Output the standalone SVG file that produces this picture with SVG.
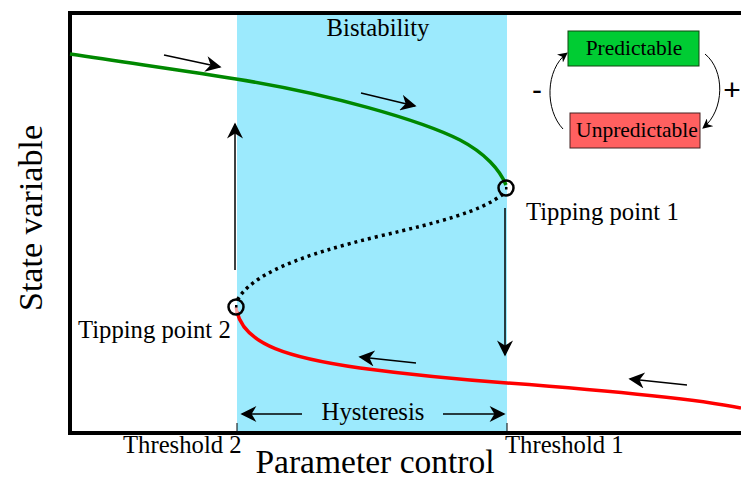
<svg xmlns="http://www.w3.org/2000/svg" width="741" height="479" viewBox="0 0 741 479">
<defs>
<marker id="ah" viewBox="0 0 10 10" refX="9" refY="5" markerWidth="10" markerHeight="10" markerUnits="userSpaceOnUse" orient="auto">
<path d="M0,0 L10,5 L0,10 L3,5 Z" fill="#000"/>
</marker>
<marker id="ahL" viewBox="0 0 10 10" refX="9" refY="5" markerWidth="20" markerHeight="16" markerUnits="userSpaceOnUse" orient="auto">
<path d="M0,0 L10,5 L0,10 L3,5 Z" fill="#000"/>
</marker>
</defs>
<style>
text{font-family:"Liberation Serif","Times New Roman",serif;fill:#000}
.lbl{font-size:24.7px}
.ar{stroke:#000;stroke-width:1.5;fill:none;marker-end:url(#ahL)}
.tp{fill:none;stroke:#000;stroke-width:2.5}
</style>
<rect width="741" height="479" fill="#fff"/>
<g id="bistability-region">
<rect x="237" y="13" width="270" height="419" fill="#9ceafd"/>
<text class="lbl" x="378" y="36" text-anchor="middle">Bistability</text>
</g>
<g id="axes">
<path d="M70,434 L70,13 L741,13" fill="none" stroke="#000" stroke-width="4"/>
<line x1="68" y1="433" x2="741" y2="433" stroke="#000" stroke-width="4"/>
<line x1="237" y1="423" x2="237" y2="433" stroke="#000" stroke-width="1"/>
<line x1="507" y1="423" x2="507" y2="433" stroke="#000" stroke-width="1"/>
<text class="lbl" x="123" y="453">Threshold 2</text>
<text class="lbl" x="505" y="453">Threshold 1</text>
<text x="375" y="473" text-anchor="middle" style="font-size:33.5px">Parameter control</text>
<text transform="translate(42,218) rotate(-90)" text-anchor="middle" style="font-size:34px">State variable</text>
</g>
<g id="connectors">
<path d="M70,54 C150,66 200,73 236,79 C330,94 420,120 460,140 C485,153 500,170 506,185" fill="none" stroke="#008800" stroke-width="3.5"/>
<path d="M503,194 C480,212 440,222 380,236 C300,255 250,275 237,301" fill="none" stroke="#000" stroke-width="3.5" stroke-dasharray="3,4"/>
<path d="M237,312 C245,345 290,358 360,368 C420,376 480,381 507,383 C600,390 690,398 741,408" fill="none" stroke="#ff0000" stroke-width="3.5"/>
<line x1="164" y1="55" x2="220" y2="67" class="ar"/>
<line x1="361" y1="93" x2="415" y2="106" class="ar"/>
<line x1="416" y1="363" x2="360" y2="357" class="ar"/>
<line x1="687" y1="385" x2="630" y2="379" class="ar"/>
<line x1="235" y1="270" x2="235" y2="124" class="ar"/>
<line x1="505" y1="208" x2="505" y2="355" class="ar"/>
<line x1="302" y1="414" x2="242" y2="414" class="ar"/>
<line x1="443" y1="414" x2="504" y2="414" class="ar"/>
<text class="lbl" x="373" y="420" text-anchor="middle">Hysteresis</text>
</g>
<g id="tipping-point-1">
<circle cx="506" cy="188" r="7.5" fill="#eef6ee" class="tp"/>
<rect x="505" y="187" width="2.5" height="2.5" fill="#000"/>
<text class="lbl" x="526" y="220">Tipping point 1</text>
</g>
<g id="tipping-point-2">
<circle cx="236" cy="307" r="7.5" fill="#fbe9ea" class="tp"/>
<line x1="236" y1="307" x2="237" y2="313" stroke="#f5a0a0" stroke-width="3"/>
<rect x="235" y="305" width="2.5" height="2.5" fill="#000"/>
<text class="lbl" x="78" y="338">Tipping point 2</text>
</g>
<g id="predictable">
<rect x="568" y="31" width="131" height="35" fill="#00cc33" stroke="#114411" stroke-width="1"/>
<text x="634" y="55" text-anchor="middle" style="font-size:21.5px">Predictable</text>
</g>
<g id="unpredictable">
<rect x="570" y="113" width="130" height="35" fill="#ff6060" stroke="#442222" stroke-width="1"/>
<text x="637" y="137" text-anchor="middle" style="font-size:21.5px">Unpredictable</text>
</g>
<g id="feedback">
<path d="M563,129 C545,110 545,70 567,53" fill="none" stroke="#000" stroke-width="1" marker-end="url(#ah)"/>
<path d="M705,54 C725,70 725,110 703,128" fill="none" stroke="#000" stroke-width="1" marker-end="url(#ah)"/>
<text x="537" y="100" text-anchor="middle" style="font-family:'Liberation Sans',Arial,sans-serif;font-size:30px">-</text>
<text x="732" y="100" text-anchor="middle" style="font-family:'Liberation Sans',Arial,sans-serif;font-size:30px">+</text>
</g>
</svg>
